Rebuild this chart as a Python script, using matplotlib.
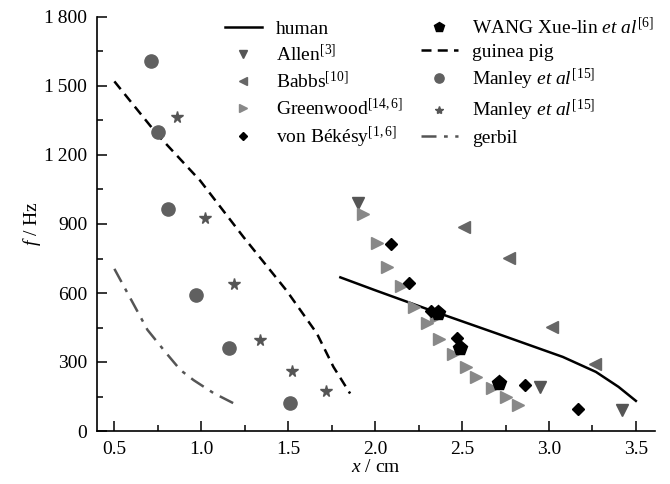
import matplotlib
matplotlib.use('Agg')
import matplotlib.pyplot as plt
from matplotlib.ticker import MultipleLocator, FuncFormatter

# curves
human_x = [1.80, 2.00, 2.30, 2.70, 3.08, 3.27, 3.40, 3.50]
human_y = [668, 612, 530, 424, 322, 257, 192, 131]
guinea_x = [0.50, 0.745, 0.994, 1.243, 1.49, 1.665, 1.76, 1.856]
guinea_y = [1520, 1291, 1088, 843, 611, 424, 279, 163]
gerbil_x = [0.50, 0.65, 0.69, 0.80, 0.88, 0.956, 1.07, 1.205]
gerbil_y = [705, 496, 440, 337, 265, 221, 165, 113]

# measurements
allen_x = [1.90, 2.95, 3.42]
allen_y = [990, 192, 91]
babbs_x = [2.51, 2.77, 3.015, 3.264]
babbs_y = [886, 752, 452, 290]
green_x = [1.93, 2.01, 2.07, 2.15, 2.226, 2.30, 2.35, 2.37, 2.45, 2.52, 2.58, 2.67, 2.75, 2.82]
green_y = [944, 818, 712, 629, 539, 470, 496, 398, 334, 279, 233, 188, 146, 111]
bekesy_x = [2.09, 2.195, 2.32, 2.47, 2.86, 3.165]
bekesy_y = [811, 645, 520, 406, 200, 97]
wang_x = [2.36, 2.49, 2.71]
wang_y = [513, 359, 210]
manley_c_x = [0.71, 0.75, 0.81, 0.97, 1.16, 1.51]
manley_c_y = [1610, 1300, 965, 590, 360, 120]
manley_s_x = [0.86, 1.02, 1.19, 1.34, 1.52, 1.72]
manley_s_y = [1365, 925, 640, 395, 262, 175]

plt.rcParams['font.family'] = ['Liberation Serif', 'DejaVu Serif']
plt.rcParams['mathtext.fontset'] = 'custom'
plt.rcParams['mathtext.rm'] = 'Liberation Serif'
plt.rcParams['mathtext.it'] = 'Liberation Serif:italic'
plt.rcParams['font.size'] = 14

fig = plt.figure(figsize=(6.7, 4.84), dpi=100)
ax = fig.add_axes([97/670, 53/484, 558/670, 414/484])

ax.plot(human_x, human_y, '-', color='black', lw=1.8, label='human')
ax.plot(allen_x, allen_y, 'v', color='#555555', ms=8, ls='none', label='Allen$^{[3]}$')
ax.plot(babbs_x, babbs_y, '<', color='#666666', ms=8, ls='none', label='Babbs$^{[10]}$')
ax.plot(green_x, green_y, '>', color='#888888', ms=8, ls='none', label='Greenwood$^{[14,6]}$')
ax.plot(bekesy_x, bekesy_y, 'D', color='black', ms=6, ls='none', label='von Békésy$^{[1,6]}$')
ax.plot(wang_x, wang_y, 'p', color='black', ms=11, ls='none', label=r'WANG Xue-lin $\mathit{et\ al}^{[6]}$')
ax.plot(guinea_x, guinea_y, '--', color='black', lw=1.8, dashes=(4, 2.5), label='guinea pig')
ax.plot(manley_c_x, manley_c_y, 'o', color='#606060', ms=9.5, ls='none', label=r'Manley $\mathit{et\ al}^{[15]}$')
ax.plot(manley_s_x, manley_s_y, '*', color='#555555', ms=8.5, ls='none', label=r'Manley $\mathit{et\ al}^{[15]}$')
ax.plot(gerbil_x, gerbil_y, '-.', color='#555555', lw=1.8, dashes=(6, 3, 1.5, 3), label='gerbil')

ax.set_xlim(0.40, 3.61)
ax.set_ylim(0, 1800)
ax.xaxis.set_major_locator(MultipleLocator(0.5))
ax.xaxis.set_minor_locator(MultipleLocator(0.25))
ax.yaxis.set_major_locator(MultipleLocator(300))
ax.yaxis.set_minor_locator(MultipleLocator(150))
ax.xaxis.set_major_formatter(FuncFormatter(lambda v, p: '%.1f' % v))
ax.yaxis.set_major_formatter(FuncFormatter(
    lambda v, p: ('%d\u2009%03d' % (v // 1000, v % 1000)) if v >= 1000 else '%d' % v))

for s in ['top', 'right']:
    ax.spines[s].set_visible(False)
for s in ['left', 'bottom']:
    ax.spines[s].set_linewidth(1.2)
ax.tick_params(which='major', direction='in', length=7, width=1.1, pad=7)
ax.tick_params(which='minor', direction='in', length=4, width=1.1)

ax.set_xlabel(r'$x$ / cm', labelpad=1)
ax.set_ylabel(r'$f$ / Hz', labelpad=1)

ax.legend(ncol=2, frameon=False, loc='upper left', bbox_to_anchor=(0.215, 1.02),
          handlelength=1.9, handletextpad=0.75, columnspacing=0.9,
          labelspacing=0.3, markerscale=0.7, borderaxespad=0)

fig.savefig('out.png', dpi=100)
